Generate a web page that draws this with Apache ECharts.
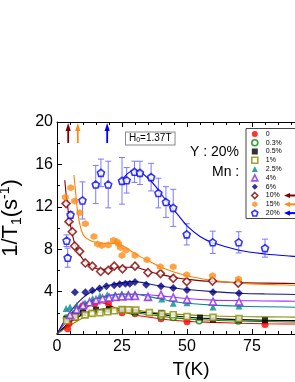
<!DOCTYPE html>
<html><head><meta charset="utf-8">
<script src="https://cdn.jsdelivr.net/npm/echarts@6/dist/echarts.min.js"></script>
<style>html,body{margin:0;padding:0;background:#fff}#c{width:295px;height:382px}</style>
</head><body><div id="c"></div>
<script>
// ---- data ----
const seriesNames = ['0','0.3%','0.5%','1%','2.5%','4%','6%','10%','15%','20%'];
const xTicks = [0,25,50,75,100];
const yTicks = [4,8,12,16,20];

const T_0   = [4.1,4.6,7.2,9.8,14.5,19.8,25,30,40,50,80];
const V_0   = [0.5,1.0,1.55,2.65,2.85,2.85,2.0,1.9,1.45,1.15,0.9];

const T_03  = [3.7,7,10,20,30,40,44.7,54.7,69.7];
const V_03  = [1.5,1.85,2.0,2.3,2.0,1.65,1.55,1.25,1.22];

const T_05  = [3.7,7,10,15,20,25,30,40,55,60,70,80];
const V_05  = [1.4,1.8,2.0,2.3,2.35,2.3,2.1,2.0,1.55,1.35,1.3,1.3];

const T_1   = [3.7,6.9,10.8,13.5,16.5,19.5,22,25,27.5,30.3,35.5,40.3,44.7,50,60,70];
const V_1   = [1.25,1.6,1.8,1.95,2.0,2.1,2.2,2.3,2.28,2.25,2.02,1.9,1.82,1.65,1.57,1.45];

const T_25  = [3.5,5,7.6,10.8,13.7,16.5,19.3,22.3,24.9,27.4,30,35.1,40.3,44.7,50,60,70];
const V_25  = [2.4,2.55,2.7,2.95,3.35,3.6,3.7,3.7,3.8,3.8,3.8,3.5,3.3,2.9,2.95,2.55,2.65];

const T_4   = [5,7.5,10,12.5,15,17.5,20,22.5,25,27.5,30,35,40,44.7,50,60,70];
const V_4   = [1.8,2.3,2.7,3.0,3.2,3.35,3.45,3.5,3.55,3.6,3.6,3.5,3.7,3.45,3.25,3.05,3.05];

const T_6   = [6.9,10.9,13.6,16.4,19,22,24.1,26.3,28,30,34.3,40,44.7,50,60,70];
const V_6   = [3.95,3.95,4.1,4.3,4.5,4.6,4.7,4.75,4.75,4.9,4.65,4.5,4.35,4.15,3.95,3.85];

const T_10  = [3.5,4.6,5.9,6.8,8.7,10.9,13.6,16.8,19.7,22,25.2,30,35,39.8,44.7,49.9,59.8,69.7];
const V_10  = [12.3,10.6,9.65,8.3,7.8,6.7,6.4,5.9,6.0,6.4,6.15,6.4,5.8,5.7,5.25,4.95,5.0,4.8];

const T_15  = [3.2,5.3,6.8,8.8,10.9,14.2,15.6,17.2,19.7,21.7,23.1,23.7,24.4,25,26.5,30,34.6,39.7,44.7,49.9,59.8,69.8];
const V_15  = [12.9,13.8,12.55,11.45,10.4,9.2,8.5,8.35,8.4,8.85,8.7,8.5,8.15,7.4,7.9,7.4,7.0,6.35,6.35,5.6,5.5,5.2];

const T_20  = [3.7,4.1,5.2,9.8,14.9,16.9,19.7,25,26.8,29.8,31.9,36.2,39,41.9,44.7,49.9,59.9,69.9,80];
const V_20  = [8.8,7.2,11.25,12.6,14.1,15.2,14.1,14.45,14.5,15.3,15.2,14.8,13.3,12.45,11.9,9.4,8.65,8.65,8.1];
const E_20  = [0.55,0.9,0.3,1.75,1.8,1.3,2.2,2.2,1.2,1.0,1.1,1.3,1.4,1.45,1.75,1.0,1.05,1.0,0.85];

// fitted curves [T, 1/T1]
const fit_0  = [[0,0],[3,0.6],[6,1.4],[10,2.2],[13,2.75],[16,2.95],[19,2.85],[22,2.5],[26,2.05],[30,1.8],[35,1.6],[40,1.42],[50,1.2],[60,1.1],[70,1.02],[80,0.97],[100,0.92]];
const fit_03 = [[0,0],[4,0.9],[8,1.6],[12,2.0],[16,2.2],[20,2.28],[25,2.2],[30,2.0],[35,1.85],[40,1.68],[45,1.52],[55,1.35],[70,1.22],[85,1.15],[100,1.1]];
const fit_05 = [[0,0],[4,0.9],[8,1.6],[12,2.05],[16,2.3],[21,2.4],[26,2.3],[31,2.1],[37,1.95],[47,1.65],[60,1.45],[80,1.3],[100,1.25]];
const fit_1  = [[0,0],[5,0.8],[10,1.5],[15,1.95],[20,2.2],[25,2.3],[30,2.25],[35,2.1],[40,1.97],[50,1.8],[60,1.7],[70,1.65],[80,1.62],[100,1.58]];
const fit_25 = [[0,0],[3,1.2],[6,2.1],[10,2.8],[15,3.35],[20,3.65],[25,3.78],[30,3.75],[35,3.55],[40,3.3],[45,3.05],[50,2.9],[60,2.72],[70,2.62],[80,2.57],[100,2.5]];
const fit_4  = [[0,0],[3,1.0],[6,1.9],[10,2.7],[15,3.3],[20,3.6],[25,3.75],[30,3.75],[35,3.7],[40,3.6],[50,3.35],[60,3.2],[70,3.15],[80,3.12],[100,3.08]];
const fit_6  = [[0,0],[3,1.3],[6,2.4],[9,3.2],[12,3.8],[16,4.3],[20,4.6],[25,4.85],[29,4.95],[33,4.85],[38,4.6],[45,4.35],[50,4.2],[60,4.0],[70,3.85],[80,3.78],[100,3.7]];
const fit_10 = [[3,14.5],[3.5,13.2],[4,12.2],[5,10.5],[6,9.3],[7,8.4],[8.5,7.6],[10,7.05],[12,6.6],[14,6.3],[17,6.1],[20,6.15],[23,6.3],[26,6.3],[30,6.3],[33,6.1],[36,5.85],[40,5.6],[45,5.35],[50,5.15],[60,4.95],[70,4.85],[80,4.8],[100,4.75]];
const fit_15 = [[6.5,15],[7,13.8],[7.5,12.5],[8,11.4],[9,10.1],[10,9.4],[11.5,9.0],[14,8.7],[18,8.55],[22,8.55],[25,8.35],[28,7.9],[32,7.3],[36,6.8],[40,6.3],[45,5.85],[50,5.5],[55,5.25],[60,5.05],[70,4.8],[80,4.68],[100,4.55]];
const fit_20 = [[25.5,14.7],[27.5,15.2],[29.5,15.45],[32,15.3],[35,14.7],[38,13.9],[41,12.9],[44,12.0],[47,11.1],[50,10.2],[55,9.2],[60,8.6],[70,7.9],[80,7.55],[90,7.35],[100,7.2]];

// transition-temperature arrows
const arrowT = [4.3, 8, 19.3];
// ---------------------------------------

const FONT = 'Liberation Sans, Arial, sans-serif';
const HEX = 'path://M0,-1L0.866,-0.5L0.866,0.5L0,1L-0.866,0.5L-0.866,-0.5Z';
const PENT = 'path://M0,-1L0.951,-0.309L0.588,0.809L-0.588,0.809L-0.951,-0.309Z';

const defs = [
  {name:'0',    T:T_0,  V:V_0,  fit:fit_0,  color:'#ff0000', line:'#ff0000', symbol:'circle',   size:7, open:false},
  {name:'0.3%', T:T_03, V:V_03, fit:fit_03, color:'#008a00', line:'#008a00', symbol:'circle',   size:6, open:true},
  {name:'0.5%', T:T_05, V:V_05, fit:fit_05, color:'#000000', line:'#000000', symbol:'rect',     size:6, open:false},
  {name:'1%',   T:T_1,  V:V_1,  fit:fit_1,  color:'#8c8c00', line:'#8c8c00', symbol:'rect',     size:6, open:true},
  {name:'2.5%', T:T_25, V:V_25, fit:fit_25, color:'#008b8b', line:'#008b8b', symbol:'triangle', size:7, open:false},
  {name:'4%',   T:T_4,  V:V_4,  fit:fit_4,  color:'#8a2be2', line:'#9933ff', symbol:'triangle', size:7, open:true},
  {name:'6%',   T:T_6,  V:V_6,  fit:fit_6,  color:'#00007f', line:'#1a1a8c', symbol:'diamond',  size:8, open:false},
  {name:'10%',  T:T_10, V:V_10, fit:fit_10, color:'#800000', line:'#800000', symbol:'diamond',  size:8, open:true},
  {name:'15%',  T:T_15, V:V_15, fit:fit_15, color:'#ff8c1a', line:'#ff8000', symbol:HEX,        size:7, open:false},
  {name:'20%',  T:T_20, V:V_20, fit:fit_20, color:'#0000ff', line:'#0000ff', symbol:PENT,       size:7, open:true}
];

const series = [];
series.push({
  type:'custom', name:'err20', z:2, silent:true,
  data: T_20.map((t,i)=>[t, V_20[i], E_20[i]]),
  renderItem(params, api){
    const x=api.value(0), y=api.value(1), e=api.value(2);
    const p1=api.coord([x,y+e]), p2=api.coord([x,y-e]); const w=3;
    const st={stroke:'#7a7aff', lineWidth:1};
    return {type:'group', children:[
      {type:'line', shape:{x1:p1[0],y1:p1[1],x2:p2[0],y2:p2[1]}, style:st},
      {type:'line', shape:{x1:p1[0]-w,y1:p1[1],x2:p1[0]+w,y2:p1[1]}, style:st},
      {type:'line', shape:{x1:p2[0]-w,y1:p2[1],x2:p2[0]+w,y2:p2[1]}, style:st}
    ]};
  }
});
defs.forEach(d=>{
  series.push({type:'line', name:'fit'+d.name, data:d.fit, smooth:0.35, showSymbol:false, symbol:'none',
    lineStyle:{color:d.line, width:1.1}, z:3, silent:true});
});
defs.forEach(d=>{
  series.push({type:'scatter', name:d.name, data:d.T.map((t,i)=>[t,d.V[i]]),
    symbol:d.symbol, symbolSize:d.size, z:5,
    itemStyle: d.open ? {color:'#ffffff', borderColor:d.color, borderWidth:1.6}
                      : {color:d.color, borderWidth:0}});
});
const arrowColors = ['#800000','#ff8c1a','#0000ff'];
series.push({
  type:'custom', name:'arrows', z:6, silent:true, clip:false,
  data: arrowT.map((t,i)=>[t,i]),
  renderItem(params, api){
    const t=api.value(0), i=api.value(1);
    const p=api.coord([t,20]); const c=arrowColors[i];
    return {type:'group', children:[
      {type:'polygon', shape:{points:[[p[0],p[1]+1],[p[0]-2.6,p[1]+9],[p[0]+2.6,p[1]+9]]}, style:{fill:c}},
      {type:'rect', shape:{x:p[0]-0.9,y:p[1]+7,width:1.8,height:14}, style:{fill:c}}
    ]};
  }
});

const axisCommon = {
  axisLine:{onZero:false, lineStyle:{color:'#000', width:1}},
  axisTick:{inside:true, length:5, lineStyle:{color:'#000', width:1}},
  splitLine:{show:false}
};

const chart = echarts.init(document.getElementById('c'), null, {renderer:'canvas'});
const legendRowY = i => 128.5 + 1 + 8.8*i + 4.4;
const legArrow = (i,c)=>({type:'group', z:100, children:[
  {type:'polygon', z:100, shape:{points:[[284,legendRowY(i)],[290,legendRowY(i)-2.6],[290,legendRowY(i)+2.6]]}, style:{fill:c}},
  {type:'rect', z:100, shape:{x:289,y:legendRowY(i)-1,width:8,height:2}, style:{fill:c}}
]});

chart.setOption({
  animation:false,
  backgroundColor:'#fff',
  grid:{left:57, top:122, width:260, height:212, outerBoundsMode:'none', containLabel:false},
  xAxis:[
    Object.assign({type:'value', min:0, max:100, interval:25, position:'bottom',
      minorTick:{show:true, splitNumber:5, length:3, lineStyle:{color:'#000'}},
      axisLabel:{fontSize:16, color:'#000', margin:5, fontFamily:FONT},
      name:'T(K)', nameLocation:'middle', nameGap:25,
      nameTextStyle:{fontSize:19, color:'#000', fontFamily:FONT, padding:[0,0,0,8]}
    }, axisCommon),
    Object.assign({type:'value', min:0, max:100, interval:25, position:'top',
      minorTick:{show:true, splitNumber:5, length:3, lineStyle:{color:'#000'}},
      axisLabel:{show:false}}, axisCommon)
  ],
  yAxis:[
    Object.assign({type:'value', min:0, max:20, interval:4, position:'left',
      minorTick:{show:true, splitNumber:2, length:3, lineStyle:{color:'#000'}},
      axisLabel:{fontSize:16, color:'#000', margin:4, fontFamily:FONT,
        formatter: v => yTicks.includes(v) ? String(v) : ''},
      name:'{a|1/T}{b|1}{a|(s}{c|-1}{a|)}', nameLocation:'middle', nameGap:30, nameRotate:90,
      nameTextStyle:{fontFamily:FONT, color:'#000', padding:[0,0,0,20],
        rich:{a:{fontSize:22, lineHeight:26, fontFamily:FONT, color:'#000'},
              b:{fontSize:14, lineHeight:10, verticalAlign:'bottom', fontFamily:FONT, color:'#000'},
              c:{fontSize:14, lineHeight:12, verticalAlign:'top', fontFamily:FONT, color:'#000'}}}
    }, axisCommon),
    Object.assign({type:'value', min:0, max:20, interval:4, position:'right',
      minorTick:{show:true, splitNumber:2, length:3, lineStyle:{color:'#000'}},
      axisLabel:{show:false}}, axisCommon)
  ],
  legend:{
    data: seriesNames, orient:'vertical', left:246, top:128.5, z:4,
    itemWidth:6, itemHeight:6, itemGap:0,
    padding:[1,40,1,5], borderColor:'#444', borderWidth:1, backgroundColor:'#fff',
    textStyle:{fontSize:7, color:'#000', fontFamily:FONT, lineHeight:8.8, padding:[0,0,0,3]},
    itemStyle:{borderWidth:'inherit'},
    selectedMode:false
  },
  graphic:[
    {type:'text', left:125, top:131.5, z:10,
      style:{text:'{a|H}{b|0}{a|=1.37T}', fill:'#000',
        rich:{a:{fontSize:10, lineHeight:11, fontFamily:FONT, fill:'#000'},
              b:{fontSize:7, lineHeight:5, verticalAlign:'bottom', fontFamily:FONT, fill:'#000'}},
        backgroundColor:'#fff', borderColor:'#888', borderWidth:1, padding:[0,3,1,3]}},
    {type:'text', left:190, top:145, z:10, style:{text:'Y : 20%', fontSize:14, fontFamily:FONT, fill:'#000'}},
    {type:'text', left:212, top:165, z:10, style:{text:'Mn :', fontSize:14, fontFamily:FONT, fill:'#000'}},
    legArrow(7,'#800000'), legArrow(8,'#ff8c1a'), legArrow(9,'#0000ff')
  ],
  series
});
</script>
</body></html>
